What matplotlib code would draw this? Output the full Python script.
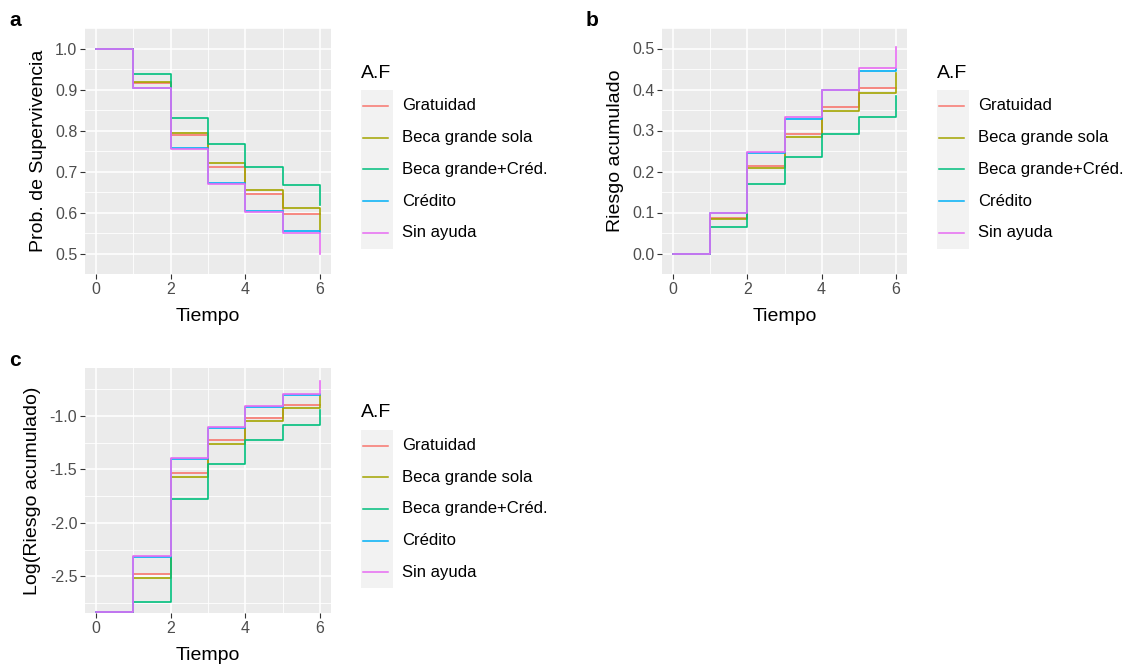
import numpy as np
import matplotlib
matplotlib.use('Agg')
import matplotlib.pyplot as plt
from matplotlib.patches import Rectangle
from matplotlib.lines import Line2D

plt.rcParams['font.family'] = ['Liberation Sans', 'DejaVu Sans']

W, H = 1127, 664

# data
groups = ['Gratuidad', 'Beca grande sola', 'Beca grande+Créd.', 'Crédito', 'Sin ayuda']
colors = ['#F8766D', '#A3A500', '#00BF7D', '#00B0F6', '#E76BF3']
tiempo = [0, 1, 2, 3, 4, 5, 6, 6]

surv_grat = [1.0, 0.916, 0.789, 0.711, 0.645, 0.597, 0.597, 0.597]
surv_beca = [1.0, 0.919, 0.795, 0.720, 0.654, 0.610, 0.610, 0.558]
surv_becacred = [1.0, 0.938, 0.831, 0.766, 0.710, 0.666, 0.666, 0.619]
surv_cred = [1.0, 0.903, 0.757, 0.673, 0.604, 0.556, 0.556, 0.552]
surv_sin = [1.0, 0.903, 0.755, 0.670, 0.601, 0.550, 0.550, 0.498]

haz_grat = [0.0, 0.086, 0.214, 0.292, 0.357, 0.404, 0.404, 0.404]
haz_beca = [0.0, 0.083, 0.208, 0.283, 0.348, 0.391, 0.391, 0.441]
haz_becacred = [0.0, 0.065, 0.170, 0.236, 0.292, 0.332, 0.332, 0.385]
haz_cred = [0.0, 0.0985, 0.244, 0.327, 0.398, 0.445, 0.445, 0.449]
haz_sin = [0.0, 0.0985, 0.248, 0.332, 0.400, 0.452, 0.452, 0.503]

loghaz_grat = [-2.835, -2.475, -1.533, -1.226, -1.022, -0.898, -0.898, -0.898]
loghaz_beca = [-2.835, -2.512, -1.573, -1.266, -1.053, -0.923, -0.923, -0.805]
loghaz_becacred = [-2.835, -2.742, -1.775, -1.446, -1.226, -1.087, -1.087, -0.944]
loghaz_cred = [-2.835, -2.320, -1.406, -1.112, -0.918, -0.808, -0.808, -0.800]
loghaz_sin = [-2.835, -2.311, -1.394, -1.102, -0.910, -0.795, -0.795, -0.675]

panels = [
    ('a', 'Prob. de Supervivencia', [surv_grat, surv_beca, surv_becacred, surv_cred, surv_sin],
     (85, 28, 331, 274), (0.470, 1.032), np.arange(0.5, 1.01, 0.1), 0.05, '%.1f'),
    ('b', 'Riesgo acumulado', [haz_grat, haz_beca, haz_becacred, haz_cred, haz_sin],
     (662, 28, 907, 274), (-0.024, 0.533), np.arange(0.0, 0.51, 0.1), 0.05, '%.1f'),
    ('c', 'Log(Riesgo acumulado)', [loghaz_grat, loghaz_beca, loghaz_becacred, loghaz_cred, loghaz_sin],
     (85, 368, 331, 613), (-2.842, -0.554), np.arange(-2.5, -0.99, 0.5), 0.25, '%.1f'),
]


def fx(x):
    return x / W


def fy(y):
    return 1 - y / H


def draw_legend(fig, right, center):
    x0 = right + 30
    fig.text(fx(x0), fy(center - 78), 'A.F', fontsize=14, ha='left', va='center')
    keys = [center - 45 + 31.7 * i for i in range(len(groups))]
    top = keys[0] - 16
    bot = keys[-1] + 16
    fig.add_artist(Rectangle((fx(x0), fy(bot)), fx(32), (bot - top) / H,
                             transform=fig.transFigure, facecolor='#F2F2F2', edgecolor='none'))
    for g, c, k in zip(groups, colors, keys):
        fig.add_artist(Line2D([fx(x0 + 2), fx(x0 + 27)], [fy(k), fy(k)], color=c, lw=1.1,
                              transform=fig.transFigure))
        fig.text(fx(x0 + 41), fy(k), g, fontsize=12, ha='left', va='center')


fig = plt.figure(figsize=(W / 100, H / 100), dpi=100)

for letter, ylab, series, box, ylim, yticks, minor_step, fmt in panels:
    l, t, r, b = box
    ax = fig.add_axes([fx(l), fy(b), (r - l) / W, (b - t) / H])
    ax.set_facecolor('#EBEBEB')
    for s in ax.spines.values():
        s.set_visible(False)
    ax.set_xlim(-0.3, 6.3)
    ax.set_ylim(*ylim)
    ax.set_xticks([0, 2, 4, 6])
    ax.set_xticks([1, 3, 5], minor=True)
    ax.set_yticks(yticks)
    ax.set_yticklabels([fmt % v for v in yticks])
    ax.set_yticks(np.arange(yticks[0] - minor_step, yticks[-1] + minor_step + 1e-9, 2 * minor_step), minor=True)
    ax.grid(True, which='major', color='white', lw=1.1)
    ax.grid(True, which='minor', color='white', lw=0.6)
    ax.set_axisbelow(True)
    ax.tick_params(which='major', length=3.5, width=0.8, color='#333333', labelcolor='#4D4D4D',
                   labelsize=11.5, pad=2)
    ax.tick_params(which='minor', length=0)
    for vals, c in zip(series, colors):
        ax.step(tiempo, vals, where='post', color=c, lw=1.2)
    ax.set_xlabel('Tiempo', fontsize=14, labelpad=8)
    ax.set_ylabel(ylab, fontsize=14, labelpad=6)
    fig.text(fx(l - 76), fy(t - 7), letter, fontsize=15, fontweight='bold', ha='left', va='center')
    draw_legend(fig, r, (t + b) / 2)

fig.savefig('out.png', dpi=100)
